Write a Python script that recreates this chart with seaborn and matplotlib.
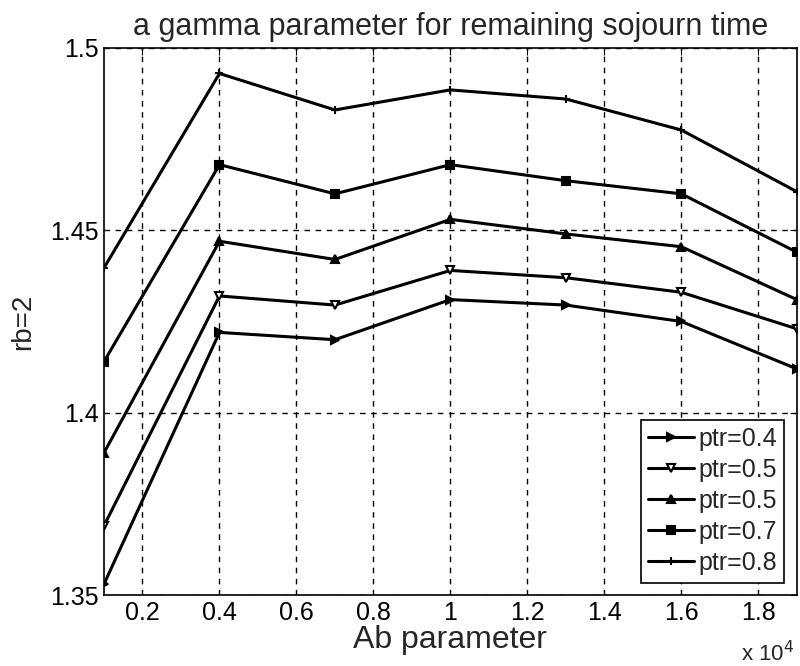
import numpy as np
import pandas as pd
import matplotlib
matplotlib.use("Agg")
import matplotlib.pyplot as plt
import seaborn as sns

# Data
ab = [1000, 4000, 7000, 10000, 13000, 16000, 19000]
ptr_04 = [1.353, 1.422, 1.420, 1.431, 1.4295, 1.425, 1.412]
ptr_05a = [1.369, 1.432, 1.4295, 1.439, 1.437, 1.433, 1.423]
ptr_05b = [1.389, 1.447, 1.442, 1.453, 1.449, 1.4455, 1.431]
ptr_07 = [1.414, 1.468, 1.460, 1.468, 1.4636, 1.460, 1.444]
ptr_08 = [1.4397, 1.493, 1.483, 1.4885, 1.486, 1.4775, 1.4606]

labels = ["ptr=0.4", "ptr=0.5", "ptr=0.5", "ptr=0.7", "ptr=0.8"]
series = [ptr_04, ptr_05a, ptr_05b, ptr_07, ptr_08]
markers = [">", "v", "^", "s", "+"]
xtick_vals = [2000, 4000, 6000, 8000, 10000, 12000, 14000, 16000, 18000]
xtick_labels = ["0.2", "0.4", "0.6", "0.8", "1", "1.2", "1.4", "1.6", "1.8"]
ytick_vals = [1.35, 1.4, 1.45, 1.5]
ytick_labels = ["1.35", "1.4", "1.45", "1.5"]

sns.set_style("white")
plt.rcParams['font.family'] = ['Liberation Sans', 'DejaVu Sans']

fig, ax = plt.subplots(figsize=(8, 6.66), dpi=100)
fig.subplots_adjust(left=0.13, right=0.996, bottom=0.1066, top=0.928)

for vals, lab, mk in zip(series, labels, markers):
    df = pd.DataFrame({"Ab": ab, "val": vals})
    face = "white" if mk == "v" else "black"
    sns.lineplot(data=df, x="Ab", y="val", ax=ax, color="black", linewidth=2.2,
                 marker=mk, markersize=6, markerfacecolor=face,
                 markeredgecolor="black", markeredgewidth=1.5, label=lab)

ax.set_xlim(1000, 19000)
ax.set_ylim(1.35, 1.5)
ax.set_xticks(xtick_vals)
ax.set_xticklabels(xtick_labels)
ax.set_yticks(ytick_vals)
ax.set_yticklabels(ytick_labels)
ax.tick_params(direction="in", labelsize=18, length=5, color="black",
               top=True, right=True, labelcolor="black", pad=4)
ax.grid(True, color="black", linestyle=(0, (4, 4)), linewidth=1.0)
for sp in ax.spines.values():
    sp.set_color("black")
    sp.set_linewidth(1.2)

ax.set_title("a gamma parameter for remaining sojourn time", fontsize=22, pad=9)
ax.set_xlabel("Ab parameter", fontsize=23, labelpad=0)
ax.set_ylabel("rb=2", fontsize=20, labelpad=10)
fig.text(0.96, 0.0, r"x 10$^{4}$", fontsize=16, ha="center", va="bottom")

leg = ax.legend(loc="lower right", fontsize=18, frameon=True, fancybox=False,
                edgecolor="black", framealpha=1, handlelength=1.85,
                handletextpad=0.15, borderpad=0.3, labelspacing=0.28,
                borderaxespad=0.5)
leg.get_frame().set_linewidth(1.2)

fig.savefig("out.png", dpi=100)
